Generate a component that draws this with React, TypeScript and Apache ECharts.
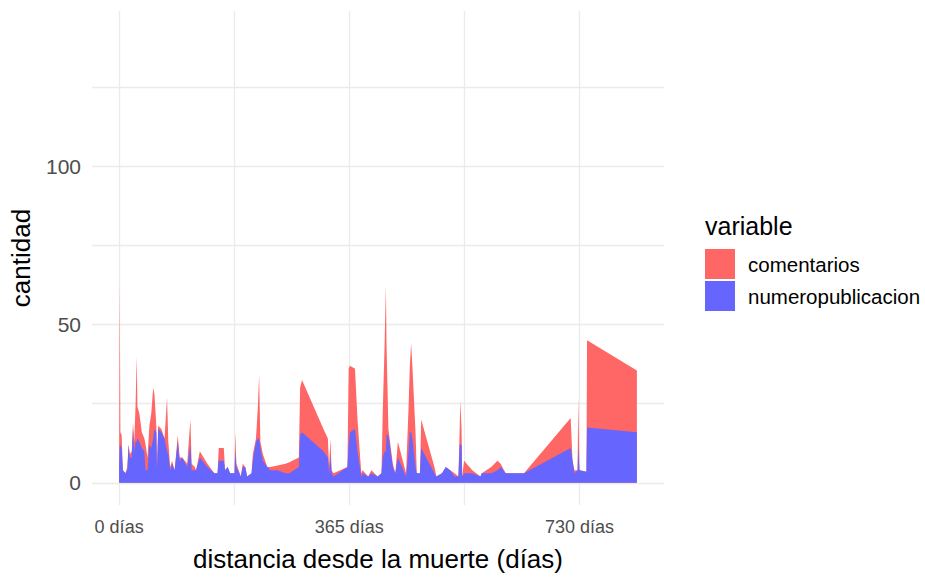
import React, { useEffect, useRef } from "react";
import * as echarts from "echarts";

const dias = [0, 1, 2, 4, 6, 10, 13, 15, 17, 20, 22, 24, 26, 28, 29, 32, 36, 40, 42, 45, 48, 51, 54, 56, 59, 60, 62, 67, 72, 76, 78, 81, 84, 88, 93, 96, 100, 108, 113, 115, 120, 122, 128, 140, 151, 156, 158, 166, 168, 172, 176, 183, 184, 186, 193, 196, 200, 203, 210, 212, 217, 220, 222, 224, 228, 235, 240, 251, 264, 270, 285, 287, 290, 324, 331, 333, 335, 337, 340, 362, 364, 366, 374, 378, 384, 386, 395, 400, 410, 416, 418, 421, 423, 424, 427, 434, 438, 442, 455, 459, 461, 463, 465, 470, 472, 477, 479, 500, 503, 512, 518, 525, 532, 538, 540, 541, 543, 544, 547, 560, 573, 575, 590, 600, 605, 613, 642, 716, 719, 722, 727, 728, 730, 741, 742, 821];

const numeropublicacion = [5, 12, 12, 11, 4, 3, 4, 12, 8, 8, 17, 10, 13, 13, 14, 13, 11, 10, 4, 4, 12, 11, 14, 17, 16, 4, 17, 16, 14, 10, 9, 4, 6, 4, 13, 7, 8, 5, 12, 4, 4, 4, 8, 5, 3, 3, 7, 7, 4, 5, 3, 3, 10, 5, 2, 5, 5, 2, 3, 7, 13, 14, 14, 11, 7, 5, 4, 4, 3, 3, 5, 15, 16, 10, 8, 3, 9, 3, 2, 5, 12, 16, 17, 10, 2, 3, 2, 3, 2, 3, 8, 10, 10, 15, 15, 5, 3, 8, 2, 10, 16, 16, 14, 5, 3, 3, 11, 3, 2, 3, 5, 4, 2, 2, 12, 12, 12, 2, 3, 3, 2, 3, 3, 4, 5, 3, 3, 11, 7, 3, 4, 11, 4, 3.5, 17.5, 16];

const comentarios = [0, 51, 4, 4, 0, 0, 1, 0, 1, 2, 2, 3, 11, 27, 10, 9, 5, 4, 8, 4, 6, 11, 16, 11, 2, 1, 1, 1, 0, 17, 4, 1, 1, 0, 2, 1, 0, 1, 8, 2, 1, 0, 2, 1, 0, 0, 4, 4, 0, 0, 0, 0, 6, 1, 0, 1, 0, 0, 0, 2, 1, 10, 20, 2, 2, 0, 1, 1.5, 3, 3.5, 3, 15, 16.5, 7, 6, 2, 5, 1, 1, 0, 24, 21, 19, 10, 1, 1, 0, 1, 0, 0, 14, 34, 52, 29, 2, 1, 0, 5, 1, 14, 21, 28, 23, 11, 0, 0, 9, 2, 0, 0, 0, 0, 1, 0, 5, 14, 5, 0, 4, 1, 0, 0, 2, 3, 1, 0, 0, 9.5, 0, 1, 0, 16, 0, 0, 27.5, 19.5];

const xGridValues = [0, 182.5, 365, 547.5, 730];
const xLabelValues = [0, 365, 730];
const yGridValues = [0, 25, 50, 75, 100, 125];
const yLabelValues = [0, 50, 100];

const FONT = "'Liberation Sans', Arial, sans-serif";
// red / blue at alpha 0.6 over white
const RED = "#FF6666";
const BLUE = "#6666FF";
const GRID = "#EBEBEB";

export default function App() {
  const ref = useRef<HTMLDivElement>(null);
  useEffect(() => {
    if (!ref.current) return;
    const chart = echarts.init(ref.current, null, { renderer: "svg" });
    // stacked position: comentarios sits on top of numeropublicacion
    const apilado = dias.map((d, i) => [d, numeropublicacion[i] + comentarios[i]]);
    const base = dias.map((d, i) => [d, numeropublicacion[i]]);
    chart.setOption({
      animation: false,
      backgroundColor: "#ffffff",
      textStyle: { fontFamily: FONT },
      title: {
        text: "variable",
        left: 705,
        top: 213,
        padding: 0,
        textStyle: { fontFamily: FONT, fontSize: 25, fontWeight: "normal", color: "#000" },
      },
      legend: {
        orient: "vertical",
        left: 705,
        top: 249,
        padding: 0,
        itemWidth: 30,
        itemHeight: 30,
        itemGap: 2,
        selectedMode: false,
        textStyle: { fontFamily: FONT, fontSize: 20.5, color: "#000", padding: [0, 0, 0, 8] },
        data: [
          { name: "comentarios", icon: "rect", itemStyle: { color: RED } },
          { name: "numeropublicacion", icon: "rect", itemStyle: { color: BLUE } },
        ],
      },
      grid: { left: 88, right: 261, top: 11, bottom: 66, containLabel: false },
      xAxis: {
        type: "value",
        min: -43,
        max: 864,
        name: "distancia desde la muerte (días)",
        nameLocation: "middle",
        nameGap: 41,
        nameTextStyle: { fontFamily: FONT, fontSize: 26, color: "#000" },
        axisLine: { show: false },
        axisTick: { show: false, customValues: xGridValues },
        axisLabel: {
          customValues: xLabelValues,
          formatter: (v: number) => `${v} días`,
          fontFamily: FONT,
          fontSize: 18,
          color: "#4D4D4D",
          margin: 13,
        },
        splitLine: { show: true, lineStyle: { color: GRID, width: 1.3 } },
      },
      yAxis: {
        type: "value",
        min: -7,
        max: 149,
        name: "cantidad",
        nameLocation: "middle",
        nameGap: 58,
        nameRotate: 90,
        nameTextStyle: { fontFamily: FONT, fontSize: 26, color: "#000" },
        axisLine: { show: false },
        axisTick: { show: false, customValues: yGridValues },
        axisLabel: {
          customValues: yLabelValues,
          fontFamily: FONT,
          fontSize: 21,
          color: "#4D4D4D",
          margin: 11,
        },
        splitLine: { show: true, lineStyle: { color: GRID, width: 1.3 } },
      },
      series: [
        {
          name: "comentarios",
          type: "line",
          symbol: "none",
          showSymbol: false,
          z: 2,
          itemStyle: { color: RED },
          lineStyle: { width: 0, opacity: 0 },
          areaStyle: { color: RED, opacity: 1, origin: 0 },
          data: apilado,
        },
        {
          name: "numeropublicacion",
          type: "line",
          symbol: "none",
          showSymbol: false,
          z: 3,
          itemStyle: { color: BLUE },
          lineStyle: { width: 0, opacity: 0 },
          areaStyle: { color: BLUE, opacity: 1, origin: 0 },
          data: base,
        },
      ],
    });
    return () => chart.dispose();
  }, []);
  return <div ref={ref} style={{ width: 925, height: 577, position: "absolute", left: 0, top: 0 }} />;
}
